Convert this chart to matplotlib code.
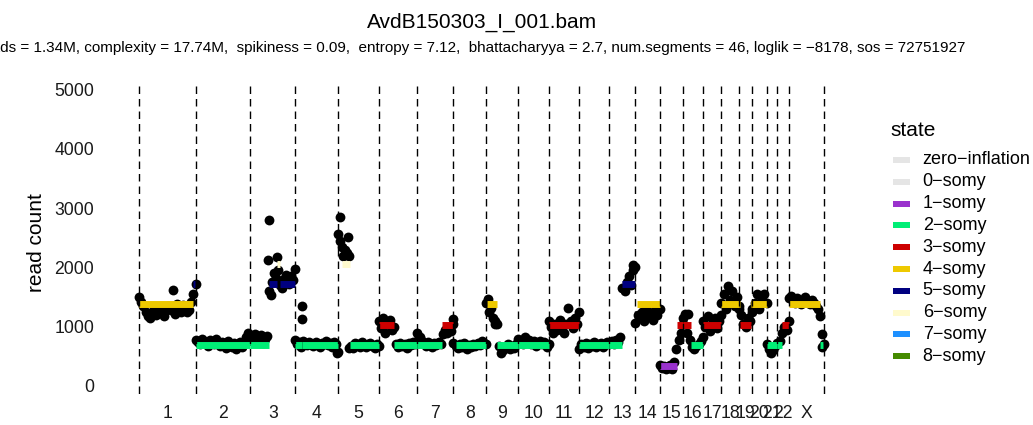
import matplotlib
matplotlib.use('Agg')
import matplotlib.pyplot as plt
from matplotlib.patches import Rectangle
import numpy as np

plt.rcParams['font.family'] = ['Liberation Sans', 'DejaVu Sans']

# ---------------- data ----------------
chrom_names = ['1', '2', '3', '4', '5', '6', '7', '8', '9', '10', '11', '12',
               '13', '14', '15', '16', '17', '18', '19', '20', '21', '22', 'X']
chrom_len_mb = [249.25, 243.20, 198.02, 191.15, 180.92, 171.12, 159.14, 146.36,
                141.21, 135.53, 135.01, 133.85, 115.17, 107.35, 102.53, 90.35,
                81.20, 78.08, 59.13, 63.03, 48.13, 51.30, 155.27]

states = ['zero\u2212inflation', '0\u2212somy', '1\u2212somy', '2\u2212somy', '3\u2212somy',
          '4\u2212somy', '5\u2212somy', '6\u2212somy', '7\u2212somy', '8\u2212somy']
state_colors = ['#E5E5E5', '#E5E5E5', '#9A32CD', '#00EE76', '#CD0000',
                '#EEC900', '#000080', '#FFFACD', '#1E90FF', '#458B00']

# read counts per bin (bins evenly spread along each chromosome)
counts = {
    '1': [1500, 1420, 1350, 1250, 1180, 1150, 1220, 1300, 1200, 1260, 1340, 1230, 1180, 1290,
          1350, 1280, 1620, 1220, 1380, 1300, 1250, 1360, 1320, 1240, 1290, 1420, 1550, 1720],
    '2': [780, 740, 700, 800, 760, 720, 680, 770, 740, 700, 790, 730, 680, 750,
          720, 640, 760, 700, 650, 730, 620, 690, 740, 660, 700, 820, 900, 780],
    '3': [820, 760, 880, 740, 800, 860, 720, 790, 840,
          1600, 1750, 1900, 1820, 1950, 1700, 1650, 1800, 1880, 1720, 1850, 1780, 1980],
    '4': [780, 700, 740, 660, 760, 720, 690, 750, 700, 680, 740, 710, 660, 730,
          700, 760, 690, 720, 650, 740, 700, 580],
    '5': [2560, 2450, 2350, 2300, 2250, 2200,
          680, 640, 720, 700, 660, 740, 690, 650, 710, 730, 680, 640, 700, 670],
    '6': [1100, 980, 1150, 900, 1050, 1120, 950, 1000,
          700, 650, 730, 680, 700, 640, 720, 690, 740, 700, 760],
    '7': [900, 820, 760, 700, 680, 740, 700, 660, 720, 690, 740, 700,
          880, 950, 900, 1000, 920, 1050],
    '8': [720, 680, 640, 700, 660, 720, 630, 690, 650, 700, 670, 720, 690, 760, 720, 700],
    '9': [1400, 1250, 1320, 1150, 1100, 1050,
          680, 560, 600, 650, 700, 620, 680, 640, 700, 740],
    '10': [800, 760, 700, 820, 740, 780, 700, 760, 680, 720, 760, 700, 740, 660, 700],
    '11': [1100, 1000, 900, 1050, 950, 1120, 1000, 900, 1050, 1323, 1100, 980, 1150, 1050, 1250],
    '12': [620, 700, 660, 720, 640, 700, 680, 740, 650, 700, 720, 660, 700, 740, 700],
    '13': [720, 760, 700, 780, 740, 820,
           1650, 1600, 1750, 1850, 1700, 1950, 2000],
    '14': [1070, 1200, 1150, 1250, 1100, 1300, 1180, 1220, 1120, 1280, 1200, 1300],
    '15': [360, 300, 330, 280, 310, 350, 290, 400, 620, 780, 900, 1050],
    '16': [1150, 1210, 900, 780, 650, 620, 680, 700, 760, 820],
    '17': [1100, 1000, 1180, 920, 1050, 1150, 980, 1100, 1200],
    '18': [1400, 1550, 1300, 1689, 1450, 1600, 1350, 1500, 1300],
    '19': [1350, 1200, 1050, 1000, 1150, 1100, 1300],
    '20': [1250, 1400, 1550, 1300, 1450, 1550, 1400],
    '21': [700, 620, 560, 600, 680, 720],
    '22': [700, 760, 900, 1000, 950, 1100],
    'X': [1480, 1520, 1450, 1400, 1480, 1420, 1380, 1450, 1500, 1420, 1380, 1450,
          1400, 1350, 1300, 1182, 870, 700],
}

# isolated bins: chromosome, position (Mb), read count
extra_chrom = ['3', '3', '3', '3', '4', '4', '4', '5', '5', '5', '5', '7', '9', '9', '13', '16', 'X']
extra_pos = [81.6, 78.5, 117.0, 90.5, 31.0, 31.0, 187.0, 8.4, 42.4, 20.0, 50.0, 158.0, 7.0, 38.0, 104.0, 25.0, 148.0]
extra_count = [2800, 2120, 2175, 1535, 1344, 1125, 562, 2855, 2518, 2200, 640, 1137, 1475, 1042, 2044, 1210, 650]

# segments: chromosome, start (Mb), end (Mb), state index, mean count
seg_chrom = ['1', '1', '2', '3', '3', '3', '3', '4', '4', '4', '5', '5', '6', '6',
             '7', '7', '8', '9', '9', '9', '10', '11', '12', '13', '13', '14',
             '15', '15', '15', '16', '16', '17', '18', '19', '19', '19', '20',
             '21', '22', '22', 'X', 'X']
seg_start = [0, 240, 0, 0, 84, 117, 133, 0, 30, 33, 18.6, 52, 2, 65,
             0, 110, 10, 2, 4, 46, 0, 0, 0, 0, 54.5, 5,
             2, 75, 77, 0, 35.5, 0, 0, 0, 4.4, 52, 0,
             0, 0, 19, 0, 139]
seg_end = [240, 249, 243.2, 84, 117, 133, 198, 30, 33, 191, 52, 181, 65, 171,
           110, 159, 146, 4, 46, 141, 135.5, 135, 133.85, 54.5, 115.17, 107,
           75, 77, 102.5, 35.5, 90.35, 81.2, 78.08, 4.4, 52, 59.13, 63.03,
           48.13, 19, 51.3, 139, 149]
seg_state = [5, 6, 3, 3, 6, 7, 6, 3, 4, 3, 7, 3, 4, 3,
             3, 4, 3, 4, 5, 3, 3, 4, 3, 3, 6, 5,
             2, 3, 4, 4, 3, 4, 5, 5, 4, 5, 5,
             3, 3, 4, 5, 3]
seg_count = [1378, 1720, 690, 690, 1720, 2062, 1720, 690, 1035, 690, 2062, 690, 1035, 690,
             690, 1035, 690, 1035, 1378, 690, 690, 1035, 690, 690, 1720, 1378,
             345, 690, 1035, 1035, 690, 1035, 1378, 1378, 1035, 1378, 1378,
             690, 690, 1035, 1378, 690]

title = 'AvdB150303_I_001.bam'
subtitle = ('reads = 1.34M, complexity = 17.74M,  spikiness = 0.09,  entropy = 7.12,  '
            'bhattacharyya = 2.7, num.segments = 46, loglik = \u22128178, sos = 72751927')
y_ticks = [0, 1000, 2000, 3000, 4000, 5000]

# ---------------- layout ----------------
W, H = 1033, 425
fig = plt.figure(figsize=(W / 100, H / 100), dpi=100)


def fx(px):
    return px / W


def fy(py):
    return 1 - py / H


ax_left, ax_right, ax_top, ax_bot = 100, 850, 86, 398
ax = fig.add_axes([fx(ax_left), fy(ax_bot), (ax_right - ax_left) / W, (ax_bot - ax_top) / H])

chrom_offset = dict(zip(chrom_names, np.concatenate([[0], np.cumsum(chrom_len_mb)[:-1]])))
genome_len = float(np.sum(chrom_len_mb))
px_start, px_end = 139.3, 824.0
ppm = (px_end - px_start) / genome_len
ax.set_xlim(-(px_start - ax_left) / ppm, genome_len + (ax_right - px_end) / ppm)
y0px, ppc = 386.0, 0.0593
ylo, yhi = -(ax_bot - y0px) / ppc, (y0px - ax_top) / ppc
ax.set_ylim(ylo, yhi)

# points
xs, ys = [], []
for name, L in zip(chrom_names, chrom_len_mb):
    vals = counts[name]
    pos = np.linspace(0, L, len(vals))
    xs.extend(chrom_offset[name] + pos)
    ys.extend(vals)
for c, p, v in zip(extra_chrom, extra_pos, extra_count):
    xs.append(chrom_offset[c] + p)
    ys.append(v)
ax.scatter(xs, ys, s=50, c='black', linewidths=0, zorder=2)

# segments
seg_x0 = [chrom_offset[c] + s for c, s in zip(seg_chrom, seg_start)]
seg_x1 = [chrom_offset[c] + e for c, e in zip(seg_chrom, seg_end)]
lc = ax.hlines(seg_count, seg_x0, seg_x1, colors=[state_colors[s] for s in seg_state],
               linewidth=5.0, zorder=3)
lc.set_capstyle('butt')

# chromosome boundaries
bounds = np.concatenate([[0], np.cumsum(chrom_len_mb)])
for b in bounds:
    ax.plot([b, b], [yhi, ylo], color='black', linewidth=1.0,
            linestyle=(0, (5.4, 3.6)), zorder=4, dash_capstyle='butt')

centers = [chrom_offset[n] + L / 2 for n, L in zip(chrom_names, chrom_len_mb)]
ax.set_xticks(centers)
ax.set_xticklabels(chrom_names, fontsize=12.7)
ax.set_yticks(y_ticks)
ax.set_yticklabels([str(v) for v in y_ticks], fontsize=12.7)
ax.tick_params(axis='x', length=0, pad=5.0, colors='#1A1A1A')
ax.tick_params(axis='y', length=0, pad=4.1, colors='#1A1A1A')
for sp in ax.spines.values():
    sp.set_visible(False)
ax.patch.set_visible(False)

# titles
fig.text(fx(481.7), fy(27.5), title, ha='center', va='baseline', fontsize=15)
fig.text(fx(965), fy(52.3), subtitle, ha='right', va='baseline', fontsize=11)
fig.text(fx(36), fy(242.5), 'read count', rotation=90, ha='center', va='center', fontsize=15)

# legend
fig.text(fx(890.7), fy(130), 'state', ha='left', va='center', fontsize=15)
for i, (lab, col) in enumerate(zip(states, state_colors)):
    yc = 160 + 21.8 * i
    fig.add_artist(Rectangle((fx(892.7), fy(yc + 3)), 17.3 / W, 6 / H,
                             transform=fig.transFigure, facecolor=col, edgecolor='none'))
    fig.text(fx(922.7), fy(yc), lab, ha='left', va='center', fontsize=13)

fig.savefig('out.png', dpi=100)
